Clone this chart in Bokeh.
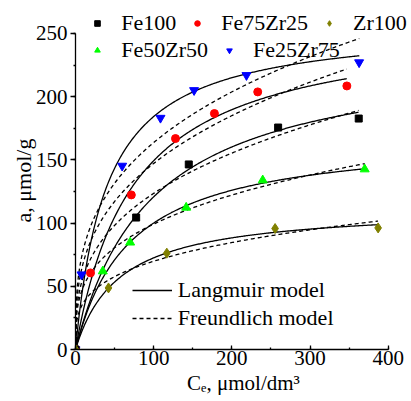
import numpy as np
from bokeh.plotting import figure
from bokeh.models import Range1d, SingleIntervalTicker, Legend, LegendItem
from bokeh.embed import file_html
from bokeh.resources import INLINE

# ---- data ----
series = ["Fe100", "Fe75Zr25", "Zr100", "Fe50Zr50", "Fe25Zr75"]
colors = ["#000000", "#FF0000", "#808000", "#00FF00", "#0000FF"]
markers = ["square", "circle", "diamond", "triangle", "inverted_triangle"]
sizes = [7, 8, 10, 9, 9]

fe100_c = [0, 77.6, 144.9, 259.2, 362.3]
fe100_a = [0, 104.4, 146.4, 175.6, 182.7]
fe75_c = [0, 19.2, 71.4, 127.9, 177.7, 233.1, 347.1]
fe75_a = [0, 60.6, 122.3, 166.9, 186.7, 203.8, 208.5]
zr100_c = [0, 42.2, 116.8, 255.3, 387.1]
zr100_a = [0, 48.7, 76.2, 95.7, 96.2]
fe50_c = [0, 34.9, 69.9, 141.6, 239.5, 369.9]
fe50_a = [0, 61.9, 84.7, 112.3, 133.9, 142.6]
fe25_c = [0, 7.7, 59.7, 108.7, 151.7, 218.7, 362.8]
fe25_a = [0, 59.3, 145.3, 183.2, 205.1, 217.0, 227.1]

# model parameters (estimated from the fitted curves)
langmuir_qm = [238, 260, 113, 170, 258]
langmuir_k = [0.0103, 0.0135, 0.0179, 0.0143, 0.025]
freundlich_kf = [26.9, 32.2, 19.5, 24.8, 38.2]
freundlich_inv_n = [0.331, 0.33, 0.277, 0.301, 0.316]
curve_end = [362, 347, 387, 370, 363]

x_axis_bounds = (0, 400)
y_axis_bounds = (0, 250)
x_ticks_interval = 100
y_ticks_interval = 50

points_c = [fe100_c, fe75_c, zr100_c, fe50_c, fe25_c]
points_a = [fe100_a, fe75_a, zr100_a, fe50_a, fe25_a]

FONT = "Liberation Serif"

# frame: left 75px, bottom border 52px; ranges extended so the axes (bounded) keep the
# reference scale while legends can sit above the 250 line
p = figure(width=411, height=401, output_backend="svg", toolbar_location=None,
           x_range=Range1d(0, 429.8), y_range=Range1d(0, 276.1),
           min_border_left=75, min_border_right=0, min_border_top=0, min_border_bottom=52)
p.outline_line_color = None
p.xgrid.visible = False
p.ygrid.visible = False
p.background_fill_color = "white"
p.border_fill_color = "white"

p.xaxis.ticker = SingleIntervalTicker(interval=x_ticks_interval, num_minor_ticks=2)
p.yaxis.ticker = SingleIntervalTicker(interval=y_ticks_interval, num_minor_ticks=2)
p.xaxis.bounds = x_axis_bounds
p.yaxis.bounds = y_axis_bounds
for ax in (p.xaxis, p.yaxis):
    ax.axis_line_width = 1.3
    ax.major_tick_line_width = 1.3
    ax.minor_tick_line_width = 1.3
    ax.major_label_text_font = FONT
    ax.major_label_text_font_size = "21px"
    ax.major_label_text_color = "black"
    ax.axis_label_text_font = FONT
    ax.axis_label_text_font_size = "21px"
    ax.axis_label_text_font_style = "normal"
    ax.axis_label_text_color = "black"
    ax.axis_line_color = "black"
    ax.major_tick_line_color = "black"
    ax.minor_tick_line_color = "black"
p.xaxis.major_tick_in = 4
p.xaxis.major_tick_out = 0
p.xaxis.minor_tick_in = 2
p.xaxis.minor_tick_out = 0
p.xaxis.major_label_standoff = 1
p.xaxis.axis_label = "Cₑ, μmol/dm³"
p.xaxis.axis_label_standoff = 3
p.yaxis.major_tick_in = 0
p.yaxis.major_tick_out = 5
p.yaxis.minor_tick_in = 0
p.yaxis.minor_tick_out = 2
p.yaxis.major_label_standoff = 3
p.yaxis.axis_label = "a, μmol/g\u2002"
p.yaxis.axis_label_text_font_size = "22px"
p.yaxis.axis_label_standoff = -3

# model curves
lang_r = []
freu_r = []
for i in range(len(series)):
    c = np.linspace(0, curve_end[i], 300)
    al = langmuir_qm[i] * langmuir_k[i] * c / (1 + langmuir_k[i] * c)
    af = freundlich_kf[i] * np.power(c, freundlich_inv_n[i])
    lang_r.append(p.line(c, al, line_color="black", line_width=1.3))
    freu_r.append(p.line(c, af, line_color="black", line_width=1.3, line_dash="4 3"))

# scatter points (Zr100 drawn last, on top at the origin)
scat_r = {}
for i in [4, 3, 1, 0, 2]:
    scat_r[i] = p.scatter(points_c[i], points_a[i], marker=markers[i], size=sizes[i],
                          fill_color=colors[i], line_color=colors[i])

def make_legend(items, loc, orientation, glyph_width, standoff, spacing):
    leg = Legend(items=items, location=loc, orientation=orientation,
                 label_text_font=FONT, label_text_font_size="22px",
                 label_text_color="black",
                 glyph_width=glyph_width, glyph_height=14, label_standoff=standoff,
                 spacing=spacing, padding=0, margin=0, label_height=20,
                 border_line_alpha=0, background_fill_alpha=0)
    return leg

leg1 = make_legend([LegendItem(label=series[i], renderers=[scat_r[i]]) for i in [0, 1, 2]],
                   (15.3, 313.2), "horizontal", 14, 17, 14)
leg2 = make_legend([LegendItem(label=series[i], renderers=[scat_r[i]]) for i in [3, 4]],
                   (15.3, 286.5), "horizontal", 14, 17, 14)
leg3 = make_legend([LegendItem(label="Langmuir model", renderers=[lang_r[0]]),
                    LegendItem(label="Freundlich model", renderers=[freu_r[0]])],
                   (56.7, 18.2), "vertical", 40, 6, 2)
for leg in (leg1, leg2, leg3):
    p.add_layout(leg, "center")

open("out.html", "w").write(file_html(p, INLINE))
